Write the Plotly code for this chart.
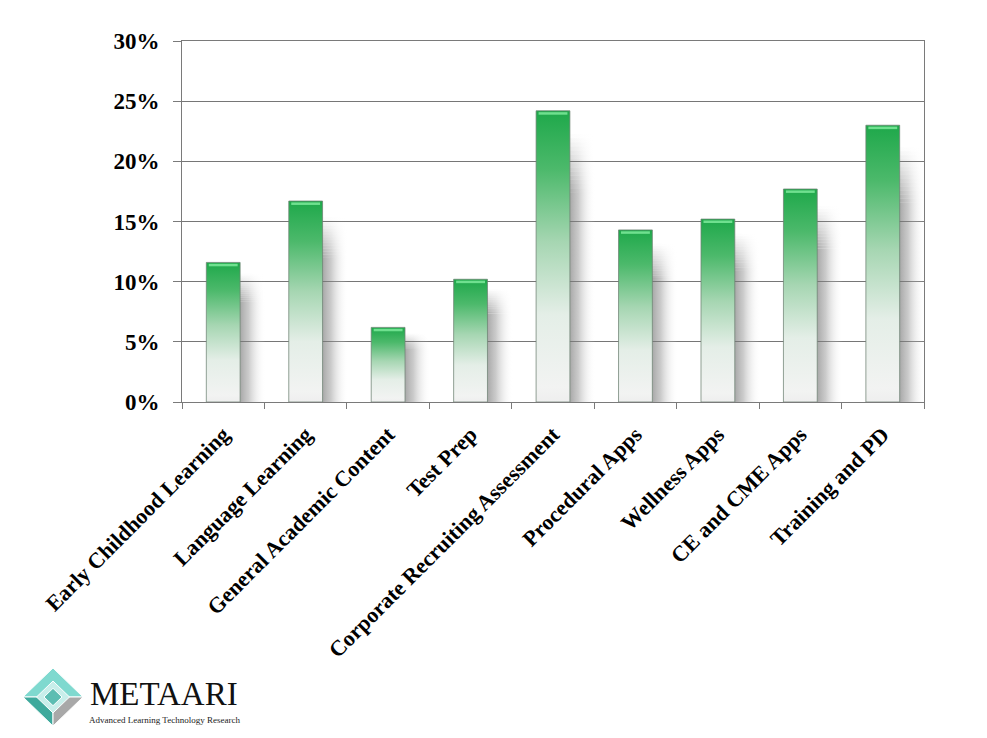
import plotly.graph_objects as go

categories = ["Early Childhood Learning", "Language Learning", "General Academic Content",
              "Test Prep", "Corporate Recruiting Assessment", "Procedural Apps",
              "Wellness Apps", "CE and CME Apps", "Training and PD"]
values = [11.6, 16.7, 6.2, 10.2, 24.2, 14.3, 15.2, 17.7, 23.0]
y_ticks = [0, 5, 10, 15, 20, 25, 30]
y_tick_labels = ["0%", "5%", "10%", "15%", "20%", "25%", "30%"]

W, H = 987, 738
L, R, T, B = 182, 63, 41, 336
BAR_W = 0.41
SHADOW_W = 0.32

fig = go.Figure()
n = len(categories)
xs = list(range(n))

def shadow_scale(a):
    return [[0, f"rgba(115,115,115,{a:.3f})"],
            [0.35, f"rgba(140,140,140,{a * 0.7:.3f})"],
            [1, "rgba(255,255,255,0)"]]

# soft shadows: solid body then a fading top made of thin strips
STRIPS = 14
for i, v in zip(xs, values):
    x0 = i + BAR_W / 2 - 0.01
    x1 = x0 + SHADOW_W
    body = 0.72 * v
    fade = 0.2 * v
    base_a = 0.65
    fig.add_trace(go.Scatter(
        x=[x0, x1, x1, x0, x0], y=[0, 0, body, body, 0],
        mode="lines", line=dict(width=0), fill="toself",
        fillgradient=dict(type="horizontal", start=x0, stop=x1, colorscale=shadow_scale(base_a)),
        hoverinfo="skip", showlegend=False))
    for k in range(STRIPS):
        y0 = body + fade * k / STRIPS
        y1 = body + fade * (k + 1) / STRIPS
        a = base_a * (1 - (k + 0.5) / STRIPS)
        fig.add_trace(go.Scatter(
            x=[x0, x1, x1, x0, x0], y=[y0, y0, y1, y1, y0],
            mode="lines", line=dict(width=0), fill="toself",
            fillgradient=dict(type="horizontal", start=x0, stop=x1, colorscale=shadow_scale(a)),
            hoverinfo="skip", showlegend=False))

# bars with vertical gradient
for i, v in zip(xs, values):
    x0 = i - BAR_W / 2
    x1 = i + BAR_W / 2
    fig.add_trace(go.Scatter(
        x=[x0, x1, x1, x0, x0], y=[0, 0, v, v, 0],
        mode="lines", line=dict(width=1, color="rgba(110,130,115,0.75)"),
        fill="toself",
        fillgradient=dict(type="vertical", start=0, stop=v,
                          colorscale=[[0, "#eeeeee"], [0.05, "#f2f3f2"], [0.3, "#e4eee7"],
                                      [0.55, "#a6d6b2"], [0.8, "#4cb96b"],
                                      [1, "#1ea84a"]]),
        hoverinfo="skip", showlegend=False, name=categories[i]))
    # top highlight
    fig.add_trace(go.Scatter(
        x=[x0 + 0.03, x1 - 0.03], y=[v - 0.22, v - 0.22], mode="lines",
        line=dict(width=2.5, color="#6fe08f"),
        hoverinfo="skip", showlegend=False))

# boundary ticks on secondary axis
fig.add_trace(go.Scatter(x=[-0.5, n - 0.5], y=[0, 0], xaxis="x2", mode="markers",
                         marker=dict(opacity=0), hoverinfo="skip", showlegend=False))

fig.update_layout(
    width=W, height=H,
    margin=dict(l=L, r=R, t=T, b=B),
    paper_bgcolor="white", plot_bgcolor="white",
    font=dict(family="Liberation Serif", color="black"),
    xaxis=dict(range=[-0.5, n - 0.5], tickvals=xs, ticktext=categories,
               tickangle=-45, ticks="", showgrid=False, zeroline=False,
               showline=True, linecolor="#7a7a7a", linewidth=1, mirror=True,
               tickfont=dict(family="Liberation Serif", size=22, color="black", weight="bold"),
               ticklabelstandoff=10),
    xaxis2=dict(range=[-0.5, n - 0.5], overlaying="x", side="bottom",
                tickvals=[k - 0.5 for k in range(n + 1)], ticks="outside", ticklen=6,
                tickcolor="#7a7a7a", showticklabels=False, showgrid=False,
                zeroline=False, showline=False),
    yaxis=dict(range=[0, 30], tickvals=y_ticks, ticktext=y_tick_labels,
               ticks="outside", ticklen=8, tickcolor="#7a7a7a",
               showgrid=True, gridcolor="#767676", gridwidth=1,
               zeroline=False, showline=True, linecolor="#7a7a7a", linewidth=1, mirror=True,
               tickfont=dict(family="Liberation Serif", size=23, color="black", weight="bold"),
               ticklabelstandoff=9),
)

# logo (pixel -> paper helpers)
def px(x):
    return (x - L) / (W - L - R)

def py(y):
    return (H - B - y) / (H - T - B)

cx, cy, hw, hh = 53, 697, 30, 29

def path(pts):
    return "M " + " L ".join(f"{px(a)},{py(b)}" for a, b in pts) + " Z"

facets = [
    ([(cx - hw, cy), (cx, cy - hh), (cx + hw, cy), (cx, cy)], "#7fd9cf"),
    ([(cx - hw, cy), (cx, cy), (cx, cy + hh)], "#3ea99c"),
    ([(cx, cy), (cx + hw, cy), (cx, cy + hh)], "#a8a8a8"),
    ([(cx - hw * 0.55, cy), (cx, cy - hh * 0.55), (cx + hw * 0.55, cy), (cx, cy + hh * 0.55)], "#c8eeea"),
    ([(cx - hw * 0.3, cy), (cx, cy - hh * 0.3), (cx + hw * 0.3, cy), (cx, cy + hh * 0.3)], "#5cbdb2"),
]
for pts, col in facets:
    fig.add_shape(type="path", path=path(pts), xref="paper", yref="paper",
                  fillcolor=col, line=dict(color="white", width=1), layer="above")

fig.add_annotation(x=px(164), y=py(694), xref="paper", yref="paper", text="METAARI",
                   showarrow=False, font=dict(family="Liberation Serif", size=33, color="#111"),
                   xanchor="center", yanchor="middle")
fig.add_annotation(x=px(164), y=py(720), xref="paper", yref="paper",
                   text="Advanced Learning Technology Research",
                   showarrow=False, font=dict(family="Liberation Serif", size=9, color="#222"),
                   xanchor="center", yanchor="middle")

fig.write_html("out.html")
